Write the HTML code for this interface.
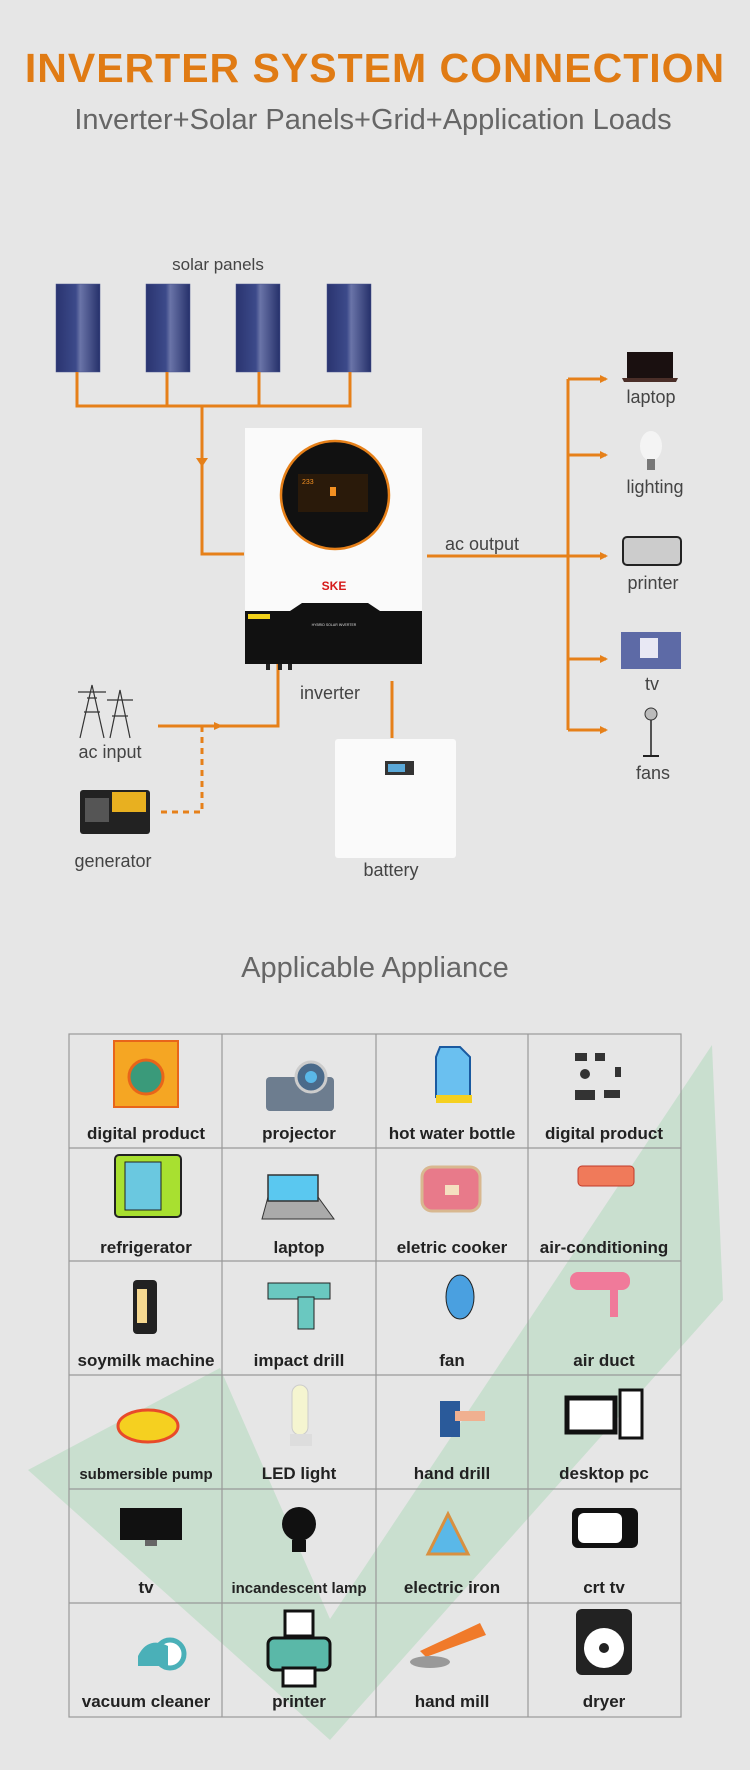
<!DOCTYPE html>
<html><head><meta charset="utf-8"><style>
html,body{margin:0;padding:0;background:#e6e6e6;}
svg{display:block;}
text{font-family:"Liberation Sans","DejaVu Sans",sans-serif;}
</style></head><body>
<svg width="750" height="1770" viewBox="0 0 750 1770" xmlns="http://www.w3.org/2000/svg">
<defs>
<linearGradient id="pv" x1="0" y1="0" x2="1" y2="0">
<stop offset="0" stop-color="#2a3470"/><stop offset="0.45" stop-color="#3c4a8a"/><stop offset="0.55" stop-color="#6a74a8"/><stop offset="1" stop-color="#25306a"/></linearGradient>
<marker id="ar" markerWidth="8" markerHeight="8" refX="6" refY="4" orient="auto" markerUnits="userSpaceOnUse"><path d="M0,0 L8,4 L0,8 Z" fill="#e68019"/></marker>
</defs>
<rect width="750" height="1770" fill="#e6e6e6"/>
<text x="375" y="82" text-anchor="middle" font-size="41" font-weight="bold" fill="#e07b14" letter-spacing="1">INVERTER SYSTEM CONNECTION</text>
<text x="373" y="129" text-anchor="middle" font-size="29" fill="#666">Inverter+Solar Panels+Grid+Application Loads</text>

<text x="218" y="270" text-anchor="middle" font-size="17" fill="#444">solar panels</text>
<g stroke="#4a5590" stroke-width="0.5">
<rect x="56" y="284" width="44" height="88" fill="url(#pv)"/>
<rect x="146" y="284" width="44" height="88" fill="url(#pv)"/>
<rect x="236" y="284" width="44" height="88" fill="url(#pv)"/>
<rect x="327" y="284" width="44" height="88" fill="url(#pv)"/>
</g>
<g stroke="#e68019" stroke-width="3" fill="none">
<path d="M77,372 V406 H350 V372 M167,372 V406 M259,372 V406"/>
<path d="M202,406 V554 H244"/>
<path d="M427,556 H606" marker-end="url(#ar)"/>
<path d="M568,379 V730"/>
<path d="M568,379 H606" marker-end="url(#ar)"/>
<path d="M568,455 H606" marker-end="url(#ar)"/>
<path d="M568,659 H606" marker-end="url(#ar)"/>
<path d="M568,730 H606" marker-end="url(#ar)"/>
<path d="M278,664 V726 H158"/>
<path d="M392,681 V738"/>
<path d="M202,726 V812 H158" stroke-dasharray="6,5"/>
</g>
<path d="M196,458 L208,458 L202,467 Z" fill="#e68019"/>
<path d="M214,722 L223,726 L214,730 Z" fill="#e68019"/>

<!-- inverter -->
<rect x="245" y="428" width="177" height="236" fill="#fafafa"/>
<rect x="245" y="611" width="177" height="53" fill="#111"/>
<path d="M290,611 L302,603 L368,603 L380,611 Z" fill="#111"/>
<circle cx="335" cy="495" r="54" fill="#111" stroke="#e68019" stroke-width="2.5"/>
<rect x="298" y="474" width="70" height="38" fill="#2a1a0a"/>
<text x="302" y="484" font-size="7" fill="#f39022">233</text>
<rect x="330" y="487" width="6" height="9" fill="#f39022"/>
<text x="334" y="626" text-anchor="middle" font-size="3.5" fill="#ddd">HYBRID SOLAR INVERTER</text>
<text x="334" y="590" text-anchor="middle" font-size="12" font-weight="bold" fill="#d61a1a">SKE</text>
<rect x="248" y="614" width="22" height="5" fill="#f2d21a"/>
<rect x="266" y="664" width="4" height="6" fill="#222"/><rect x="278" y="664" width="4" height="6" fill="#222"/><rect x="288" y="664" width="4" height="6" fill="#222"/>
<text x="482" y="550" text-anchor="middle" font-size="18" fill="#444">ac output</text>
<text x="330" y="699" text-anchor="middle" font-size="18" fill="#444">inverter</text>

<!-- right icons -->
<rect x="627" y="352" width="46" height="26" fill="#1a1010"/>
<path d="M622,378 L678,378 L676,382 L624,382 Z" fill="#4a2e28"/>
<text x="651" y="403" text-anchor="middle" font-size="18" fill="#444">laptop</text>
<ellipse cx="651" cy="446" rx="11" ry="15" fill="#f4f4f4"/>
<rect x="647" y="459" width="8" height="11" fill="#777"/>
<text x="655" y="493" text-anchor="middle" font-size="18" fill="#444">lighting</text>
<rect x="623" y="537" width="58" height="28" rx="4" fill="#ccc" stroke="#222" stroke-width="2"/>
<text x="653" y="589" text-anchor="middle" font-size="18" fill="#444">printer</text>
<rect x="621" y="632" width="60" height="37" fill="#5d6aa6"/>
<rect x="640" y="638" width="18" height="20" fill="#e8e8f4"/>
<text x="652" y="690" text-anchor="middle" font-size="18" fill="#444">tv</text>
<line x1="651" y1="712" x2="651" y2="755" stroke="#222" stroke-width="1.5"/>
<circle cx="651" cy="714" r="6" fill="#bbb" stroke="#333"/>
<line x1="643" y1="756" x2="659" y2="756" stroke="#222" stroke-width="2"/>
<text x="653" y="779" text-anchor="middle" font-size="18" fill="#444">fans</text>

<!-- ac input -->
<g stroke="#333" stroke-width="1.2" fill="none">
<path d="M80,738 L92,685 L104,738 M84,712 H100 M87,698 H97 M78,692 H106"/>
<path d="M110,738 L120,690 L130,738 M112,716 H128 M107,700 H133"/>
</g>
<text x="110" y="758" text-anchor="middle" font-size="18" fill="#444">ac input</text>
<rect x="80" y="790" width="70" height="44" rx="3" fill="#222"/>
<rect x="112" y="792" width="34" height="20" fill="#e8b020"/>
<rect x="85" y="798" width="24" height="24" fill="#555"/>
<text x="113" y="867" text-anchor="middle" font-size="18" fill="#444">generator</text>

<!-- battery -->
<rect x="335" y="739" width="121" height="119" rx="3" fill="#fafafa"/>
<rect x="385" y="761" width="29" height="14" fill="#333"/>
<rect x="388" y="764" width="17" height="8" fill="#5aa8d8"/>
<text x="391" y="876" text-anchor="middle" font-size="18" fill="#444">battery</text>

<!-- appliance section -->
<text x="375" y="977" text-anchor="middle" font-size="29" fill="#666">Applicable Appliance</text>
<polygon points="28,1470 220,1368 330,1619 712,1045 723,1300 330,1740" fill="#a6d6b3" opacity="0.45"/>
<g stroke="#999" stroke-width="1.2" fill="none">
<rect x="69" y="1034" width="612" height="683"/>
<path d="M222,1034 V1717 M376,1034 V1717 M528,1034 V1717"/>
<path d="M69,1148 H681 M69,1261 H681 M69,1375 H681 M69,1489 H681 M69,1603 H681"/>
</g>
<g font-size="17" font-weight="bold" fill="#222" text-anchor="middle">
<text x="146" y="1139">digital product</text><text x="299" y="1139">projector</text><text x="452" y="1139">hot water bottle</text><text x="604" y="1139">digital product</text>
<text x="146" y="1253">refrigerator</text><text x="299" y="1253">laptop</text><text x="452" y="1253">eletric cooker</text><text x="604" y="1253">air-conditioning</text>
<text x="146" y="1366">soymilk machine</text><text x="299" y="1366">impact drill</text><text x="452" y="1366">fan</text><text x="604" y="1366">air duct</text>
<text x="146" y="1479" font-size="15">submersible pump</text><text x="299" y="1479">LED light</text><text x="452" y="1479">hand drill</text><text x="604" y="1479">desktop pc</text>
<text x="146" y="1593">tv</text><text x="299" y="1593" font-size="15">incandescent lamp</text><text x="452" y="1593">electric iron</text><text x="604" y="1593">crt tv</text>
<text x="146" y="1707">vacuum cleaner</text><text x="299" y="1707">printer</text><text x="452" y="1707">hand mill</text><text x="604" y="1707">dryer</text>
</g>
<g transform="translate(0,7)">
<rect x="114" y="1034" width="64" height="66" fill="#f5a623" stroke="#e8651a" stroke-width="2"/>
<circle cx="146" cy="1070" r="17" fill="#3a9a7a" stroke="#e8651a" stroke-width="3"/>
<rect x="266" y="1070" width="68" height="34" rx="4" fill="#6d7d8f"/>
<circle cx="311" cy="1070" r="15" fill="#4a6a8a" stroke="#ccc" stroke-width="3"/>
<circle cx="311" cy="1070" r="6" fill="#5ab8e8"/>
<path d="M440,1040 h20 l10,10 v40 h-34 v-40 z" fill="#6ac0f0" stroke="#1a5aa0" stroke-width="2"/>
<rect x="436" y="1088" width="36" height="8" fill="#f5d020"/>
<g fill="#333"><rect x="575" y="1046" width="12" height="8"/><rect x="595" y="1046" width="10" height="8"/><rect x="575" y="1083" width="20" height="10"/><rect x="604" y="1083" width="16" height="8"/><circle cx="585" cy="1067" r="5"/><rect x="615" y="1060" width="6" height="10"/></g>
</g>
<g transform="translate(0,17)">
<rect x="115" y="1138" width="66" height="62" rx="4" fill="#a8e030" stroke="#222" stroke-width="2"/>
<rect x="125" y="1145" width="36" height="48" fill="#6ac8e0" stroke="#222"/>
<path d="M268,1180 h50 l16,22 h-72 z" fill="#aaa" stroke="#333"/>
<rect x="268" y="1158" width="50" height="26" fill="#5ac8f0" stroke="#333" stroke-width="1.5"/>
<rect x="422" y="1150" width="58" height="44" rx="10" fill="#e87a8a" stroke="#d8b890" stroke-width="3"/>
<rect x="445" y="1168" width="14" height="10" fill="#f5e0c0"/>
<rect x="578" y="1149" width="56" height="20" rx="4" fill="#f07a5a" stroke="#c03a2a"/>
</g>
<g transform="translate(0,27)">
<rect x="133" y="1253" width="24" height="54" rx="4" fill="#222"/><rect x="137" y="1262" width="10" height="34" fill="#f5d890"/>
<rect x="268" y="1256" width="62" height="16" fill="#6ac8c0" stroke="#222"/><rect x="298" y="1270" width="16" height="32" fill="#6ac8c0" stroke="#222"/>
<ellipse cx="460" cy="1270" rx="14" ry="22" fill="#4aa0e0" stroke="#222"/>
<rect x="570" y="1245" width="60" height="18" rx="8" fill="#f07a9a"/><rect x="610" y="1260" width="8" height="30" fill="#f07a9a"/>
</g>
<g transform="translate(0,36)">
<ellipse cx="148" cy="1390" rx="30" ry="16" fill="#f5d020" stroke="#e84a2a" stroke-width="3"/>
<rect x="292" y="1349" width="16" height="50" rx="8" fill="#f5f5d0" stroke="#ccc"/>
<rect x="290" y="1398" width="22" height="12" fill="#ddd"/>
<rect x="440" y="1365" width="20" height="36" fill="#2a5a9a"/><rect x="455" y="1375" width="30" height="10" fill="#f0b090"/>
<rect x="567" y="1362" width="48" height="34" fill="#fff" stroke="#111" stroke-width="5"/><rect x="620" y="1354" width="22" height="48" fill="#fff" stroke="#111" stroke-width="3"/>
</g>
<g transform="translate(0,46)">
<rect x="120" y="1462" width="62" height="32" fill="#111"/><rect x="145" y="1494" width="12" height="6" fill="#666"/>
<circle cx="299" cy="1478" r="17" fill="#111"/><rect x="292" y="1494" width="14" height="12" fill="#111"/>
<path d="M428,1508 l20,-40 l20,40 z" fill="#5ab8e8" stroke="#d89040" stroke-width="3"/>
<rect x="572" y="1462" width="66" height="40" rx="6" fill="#111"/><rect x="578" y="1467" width="44" height="30" rx="6" fill="#fff"/>
</g>
<g transform="translate(0,56)">
<circle cx="170" cy="1598" r="14" fill="#fff" stroke="#4ab0b8" stroke-width="5"/><path d="M138,1600 q10,-20 30,-10 v20 h-30 z" fill="#4ab0b8"/>
<rect x="268" y="1582" width="62" height="32" rx="6" fill="#5ab8a8" stroke="#111" stroke-width="3"/><rect x="285" y="1555" width="28" height="25" fill="#fff" stroke="#111" stroke-width="3"/><rect x="283" y="1612" width="32" height="18" fill="#fff" stroke="#111" stroke-width="3"/>
<path d="M420,1595 l60,-28 l6,12 l-60,22 z" fill="#f07a2a"/><ellipse cx="430" cy="1606" rx="20" ry="6" fill="#999"/>
<rect x="576" y="1553" width="56" height="66" rx="6" fill="#222"/><circle cx="604" cy="1592" r="20" fill="#fff"/><circle cx="604" cy="1592" r="5" fill="#222"/>
</g>
</svg>
</body></html>
